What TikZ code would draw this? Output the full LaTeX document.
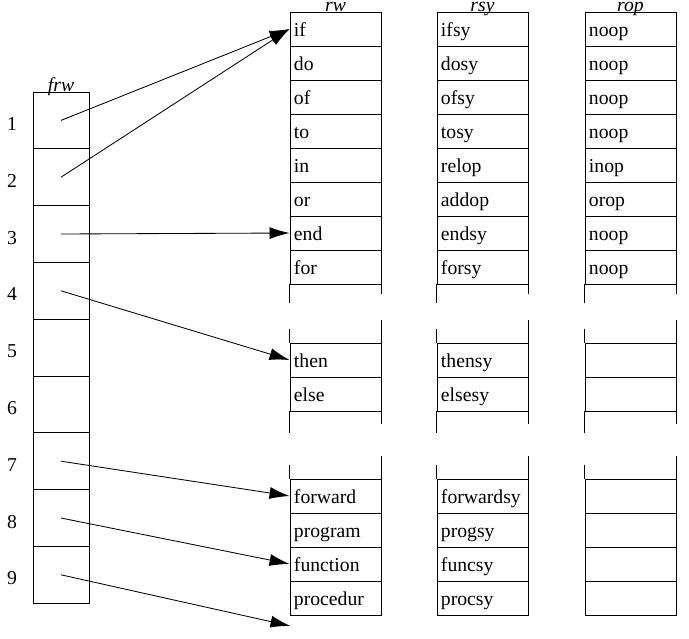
\documentclass[tikz,border=0pt]{standalone}
\usepackage{fontspec}
\setmainfont{Liberation Serif}
\usetikzlibrary{arrows.meta,positioning}

\begin{document}
\begin{tikzpicture}[x=0.025cm,y=-0.025cm,line width=0.6pt,
  font=\fontsize{14}{16}\selectfont,
  cell/.style={draw,minimum height=0.85cm,text width=2.075cm,inner xsep=0.1cm,
               inner ysep=0pt,align=left,text height=13pt,text depth=3pt},
  slot/.style={draw,minimum width=1.4cm,minimum height=1.42cm,inner sep=0pt},
  head/.style={font=\fontsize{14}{16}\selectfont\itshape,anchor=base,inner sep=0pt},
  ptr/.style={-{Latex[length=0.5cm,width=0.3cm]}}]
  \useasboundingbox (0,0) rectangle (689,638);
  % the frw table
  \foreach \i in {1,...,9} {
    \node[slot] (f\i) at (61,{120.4+56.8*(\i-1)}) {};
    \node (n\i) at (12,{124+56.8*(\i-1)}) {\i};
  }
  \node[head] (h-frw) at (f1.north) {frw};
  % rw, rsy and rop tables
  \foreach \y/\w/\s/\o in {29/if/ifsy/noop, 63/do/dosy/noop, 97/of/ofsy/noop,
      131/to/tosy/noop, 165/in/relop/inop, 199/or/addop/orop, 233/end/endsy/noop,
      267/for/forsy/noop, 360/then/thensy/{}, 394/else/elsesy/{},
      496/forward/forwardsy/{}, 530/program/progsy/{}, 564/function/funcsy/{},
      598/procedur/procsy/{}} {
    \node[cell] (rw-\w) at (335.5,\y) {\w};
    \node[cell] (rsy-\w) at (482.5,\y) {\s};
    \node[cell] (rop-\w) at (630.5,\y) {\o};
  }
  \node[head] (h-rw) at (rw-if.north) {rw};
  \node[head] (h-rsy) at (rsy-if.north) {rsy};
  \node[head] (h-rop) at (rop-if.north) {rop};
  % broken-off sides of the tables
  \foreach \col in {rw,rsy,rop} {
    \draw (\col-for.south west) -- ++(0,19) (\col-for.south east) -- ++(0,10);
    \draw (\col-then.north west) -- ++(0,-14) (\col-then.north east) -- ++(0,-23);
    \draw (\col-else.south west) -- ++(0,22) (\col-else.south east) -- ++(0,13);
    \draw (\col-forward.north west) -- ++(0,-14) (\col-forward.north east) -- ++(0,-23);
  }
  \coordinate (spare) at (290.5,626);
  \draw[ptr] (f1.center) -- (rw-if.west);
  \draw[ptr] (f2.center) -- (rw-if.west);
  \draw[ptr] (f3.center) -- (rw-end.west);
  \draw[ptr] (f4.center) -- (rw-then.west);
  \draw[ptr] (f7.center) -- (rw-forward.west);
  \draw[ptr] (f8.center) -- (rw-function.west);
  \draw[ptr] (f9.center) -- (spare);
\end{tikzpicture}
\end{document}
